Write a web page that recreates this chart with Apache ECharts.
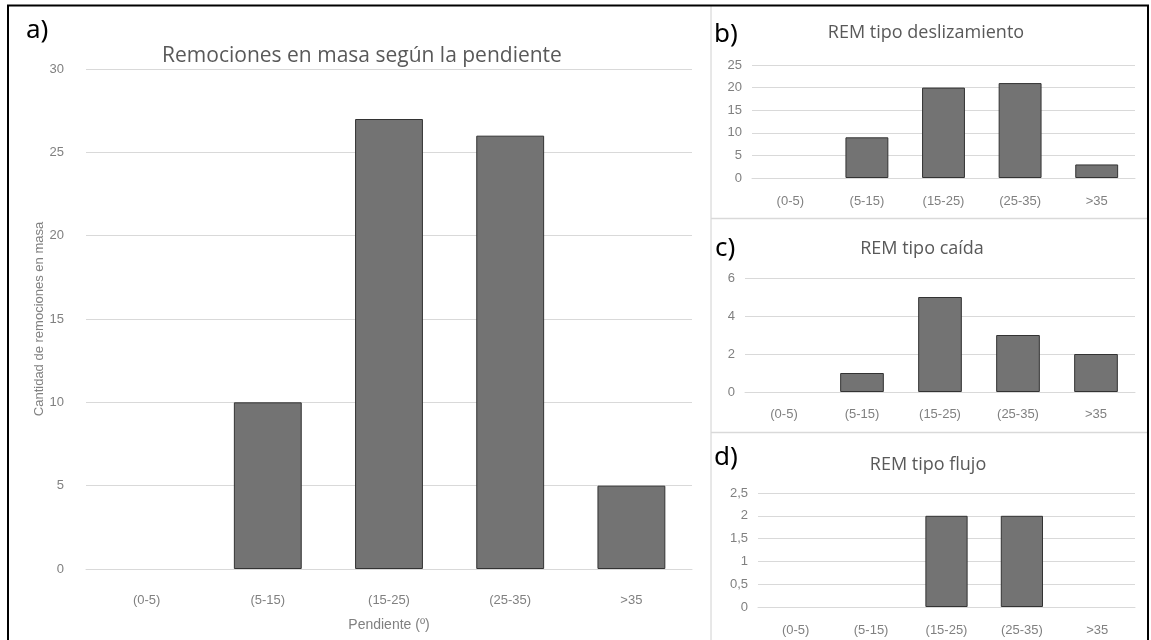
<!DOCTYPE html>
<html>
<head>
<meta charset="utf-8">
<script src="https://cdn.jsdelivr.net/npm/echarts@6/dist/echarts.min.js"></script>
<style>
  html, body { margin: 0; padding: 0; background: #fff; }
  #chart { width: 1151px; height: 640px; }
</style>
</head>
<body>
<div id="chart"></div>
<script>
// categorías de pendiente
const categories = ['(0-5)', '(5-15)', '(15-25)', '(25-35)', '>35']
// a) total de remociones en masa
const totalValues = [0, 10, 27, 26, 5]
// b) deslizamiento
const slideValues = [0, 9, 20, 21, 3]
// c) caída
const fallValues = [0, 1, 5, 3, 2]
// d) flujo
const flowValues = [0, 0, 2, 2, 0]

const chart = echarts.init(document.getElementById('chart'))

const labelFont = "'Liberation Sans', Arial, sans-serif"
const narrowFont = "'Liberation Sans Narrow', 'Liberation Sans', sans-serif"
const gridColor = '#d9d9d9'

// un panel = grid + ejes + serie
const panels = [
  { values: totalValues, grid: { left: 86, top: 69, width: 606, height: 500 }, max: 30, interval: 5, font: narrowFont, size: 13, xMargin: 25, yMargin: 22 },
  { values: slideValues, grid: { left: 752, top: 65, width: 383, height: 113 }, max: 25, interval: 5, font: labelFont, size: 13, xMargin: 17, yMargin: 10 },
  { values: fallValues, grid: { left: 745, top: 278, width: 390, height: 114 }, max: 6, interval: 2, font: labelFont, size: 13, xMargin: 16, yMargin: 10 },
  { values: flowValues, grid: { left: 758, top: 493, width: 377, height: 114 }, max: 2.5, interval: 0.5, font: labelFont, size: 13, xMargin: 17, yMargin: 10 }
]

const grids = panels.map(p => p.grid)

const xAxes = panels.map((p, i) => ({
  type: 'category',
  gridIndex: i,
  data: categories,
  axisLine: { lineStyle: { color: gridColor, width: 1 } },
  axisTick: { show: false },
  axisLabel: { color: '#808080', fontFamily: p.font, fontSize: p.size, margin: p.xMargin, interval: 0 },
  ...(i === 0 ? {
    name: 'Pendiente (º)',
    nameLocation: 'middle',
    nameGap: 49,
    nameMoveOverlap: false,
    nameTextStyle: { color: '#808080', fontFamily: narrowFont, fontSize: 14 }
  } : {})
}))

const yAxes = panels.map((p, i) => ({
  type: 'value',
  gridIndex: i,
  min: 0,
  max: p.max,
  interval: p.interval,
  axisLine: { show: false },
  axisTick: { show: false },
  splitLine: { lineStyle: { color: gridColor, width: 1 } },
  axisLabel: {
    color: '#808080',
    fontFamily: p.font,
    fontSize: p.size,
    margin: p.yMargin,
    formatter: v => String(v).replace('.', ',')
  },
  ...(i === 0 ? {
    name: 'Cantidad de remociones en masa',
    nameLocation: 'middle',
    nameGap: 40,
    nameMoveOverlap: false,
    nameTextStyle: { color: '#808080', fontFamily: labelFont, fontSize: 13 }
  } : {})
}))

const series = panels.map((p, i) => ({
  type: 'bar',
  xAxisIndex: i,
  yAxisIndex: i,
  data: p.values.map(v => (v === 0 ? null : v)),
  barWidth: '56%',
  itemStyle: { color: '#737373', borderColor: '#333333', borderWidth: 1 },
  silent: true
}))

const textEl = (text, x, y, font, fill, align) => ({
  type: 'text',
  x, y,
  silent: true,
  style: { text, font, fill, align: align || 'center', textAlign: align || 'center', verticalAlign: 'middle', textVerticalAlign: 'middle' }
})

const graphic = [
  // marcos
  { type: 'line', shape: { x1: 711, y1: 6, x2: 711, y2: 640 }, style: { stroke: '#d0d0d0', lineWidth: 1 }, silent: true },
  { type: 'line', shape: { x1: 711, y1: 218.5, x2: 1148, y2: 218.5 }, style: { stroke: '#d9d9d9', lineWidth: 1.5 }, silent: true },
  { type: 'line', shape: { x1: 711, y1: 432.5, x2: 1148, y2: 432.5 }, style: { stroke: '#d9d9d9', lineWidth: 1.5 }, silent: true },
  { type: 'polyline', shape: { points: [[8, 640], [8, 5.5], [1148, 5.5], [1148, 640]] }, style: { stroke: '#000', lineWidth: 2, fill: null }, silent: true },
  // títulos
  textEl('Remociones en masa según la pendiente', 362, 56, "21px 'Open Sans', sans-serif", '#595959'),
  textEl('REM tipo deslizamiento', 926, 33, "18px 'Open Sans', sans-serif", '#595959'),
  textEl('REM tipo caída', 922, 249, "18px 'Open Sans', sans-serif", '#595959'),
  textEl('REM tipo flujo', 928, 465, "18px 'Open Sans', sans-serif", '#595959'),
  // letras de panel
  textEl('a)', 26, 31, "26px 'Noto Sans', sans-serif", '#000', 'left'),
  textEl('b)', 714, 35, "26px 'Noto Sans', sans-serif", '#000', 'left'),
  textEl('c)', 715, 249, "26px 'Noto Sans', sans-serif", '#000', 'left'),
  textEl('d)', 714, 458, "26px 'Noto Sans', sans-serif", '#000', 'left')
]

chart.setOption({
  animation: false,
  grid: grids,
  xAxis: xAxes,
  yAxis: yAxes,
  series,
  graphic
})
</script>
</body>
</html>
